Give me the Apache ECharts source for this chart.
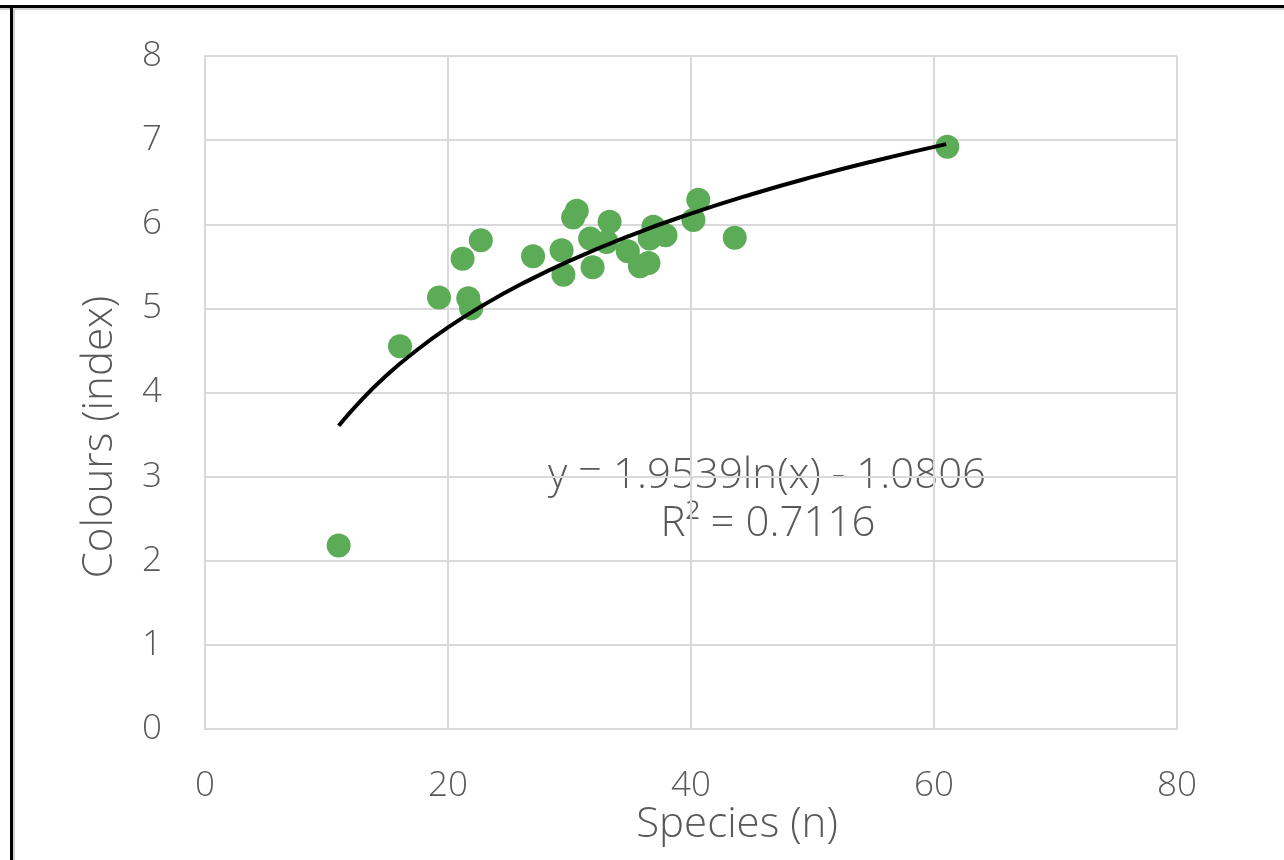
<!DOCTYPE html>
<html>
<head>
<meta charset="utf-8">
<script src="https://cdn.jsdelivr.net/npm/echarts@6/dist/echarts.min.js"></script>
<style>
html,body{margin:0;padding:0;background:#fff;}
#chart{width:1284px;height:860px;}
</style>
</head>
<body>
<div id="chart"></div>
<script>
// Observed points: species (n) and colours (index)
const speciesX = [11.0, 16.05, 19.26, 21.67, 21.9, 21.2, 22.7, 27.0, 29.35, 29.5, 30.3, 30.6, 31.7, 33.3, 33.05, 31.9, 34.8, 35.8, 36.5, 36.6, 37.9, 36.9, 40.6, 40.2, 43.6, 61.1];
const coloursY = [2.18, 4.55, 5.13, 5.12, 5.0, 5.59, 5.81, 5.62, 5.69, 5.40, 6.08, 6.16, 5.83, 6.03, 5.79, 5.49, 5.68, 5.50, 5.54, 5.83, 5.87, 5.97, 6.29, 6.05, 5.84, 6.92];
// Logarithmic trendline
const trendX = [11, 13, 15, 17, 20, 23, 26, 30, 35, 40, 45, 50, 55, 61];
const trendY = [3.605, 3.931, 4.211, 4.455, 4.773, 5.046, 5.286, 5.565, 5.866, 6.127, 6.357, 6.563, 6.749, 6.952];
const xAxisName = 'Species (n)';
const yAxisName = 'Colours (index)';
const equationText = 'y = 1.9539ln(x) - 1.0806';
const r2Text = 'R² = 0.7116';

const font = '"Open Sans", "Noto Sans", sans-serif';
const textColor = '#595959';

const scatterData = speciesX.map((x, i) => [x, coloursY[i]]);
const trendData = trendX.map((x, i) => [x, trendY[i]]);

const chart = echarts.init(document.getElementById('chart'));
chart.setOption({
  animation: false,
  backgroundColor: '#fff',
  grid: {left: 205, right: 107, top: 56, bottom: 131, containLabel: false},
  xAxis: {
    type: 'value', min: 0, max: 80, interval: 20,
    axisLine: {show: true, lineStyle: {color: '#d9d9d9', width: 2}},
    axisTick: {show: false},
    axisLabel: {fontFamily: font, fontSize: 35, fontWeight: 300, color: textColor, margin: 40},
    splitLine: {show: true, lineStyle: {color: '#d9d9d9', width: 2}}
  },
  yAxis: {
    type: 'value', min: 0, max: 8, interval: 1,
    axisLine: {show: true, lineStyle: {color: '#d9d9d9', width: 2}},
    axisTick: {show: false},
    axisLabel: {fontFamily: font, fontSize: 35, fontWeight: 300, color: textColor, margin: 43},
    splitLine: {show: true, lineStyle: {color: '#d9d9d9', width: 2}}
  },
  series: [
    {
      type: 'scatter', data: scatterData, symbolSize: 24,
      itemStyle: {color: '#5cab57', opacity: 1}, z: 2
    },
    {
      type: 'line', data: trendData, smooth: true, showSymbol: false,
      lineStyle: {color: '#000', width: 4}, z: 3
    }
  ],
  graphic: [
    {type: 'line', shape: {x1: 0, y1: 6.5, x2: 1284, y2: 6.5}, style: {stroke: '#000', lineWidth: 3}, silent: true},
    {type: 'line', shape: {x1: 0, y1: 9, x2: 1284, y2: 9}, style: {stroke: '#d0d0d0', lineWidth: 2}, silent: true},
    {type: 'line', shape: {x1: 11.5, y1: 5, x2: 11.5, y2: 860}, style: {stroke: '#000', lineWidth: 3}, silent: true},
    {type: 'line', shape: {x1: 14, y1: 8, x2: 14, y2: 860}, style: {stroke: '#d0d0d0', lineWidth: 2}, silent: true},
    {type: 'text', x: 737, y: 825, style: {text: xAxisName, font: '300 42px ' + font, fill: textColor, textAlign: 'center', textVerticalAlign: 'middle'}},
    {type: 'text', x: 100, y: 437, rotation: Math.PI / 2, style: {text: yAxisName, font: '300 42px ' + font, fill: textColor, textAlign: 'center', textVerticalAlign: 'middle'}},
    {type: 'text', x: 767, y: 476, style: {text: equationText, font: '300 42px ' + font, fill: textColor, textAlign: 'center', textVerticalAlign: 'middle'}},
    {type: 'text', x: 768, y: 524, style: {text: r2Text, font: '300 42px ' + font, fill: textColor, textAlign: 'center', textVerticalAlign: 'middle'}}
  ]
});
</script>
</body>
</html>
